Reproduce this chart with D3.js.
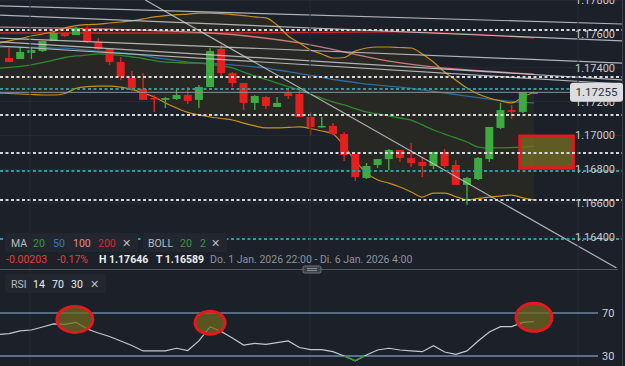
<!DOCTYPE html>
<html>
<head>
<meta charset="utf-8">
<script src="https://cdn.jsdelivr.net/npm/d3@7"></script>
<style>
    body { margin: 0; background: #1b2029; }
    #chart-area { width: 625px; height: 366px; }
    svg { display: block; font-family: Roboto, "Liberation Sans", Arial, sans-serif; }
</style>
</head>
<body>
<div id="chart-area"></div>
<script>
// EUR/USD candles, one per bar (bar 0 = first visible candle)
let opens  = [1.17458,1.17452,1.17488,1.17499,1.17559,1.17606,1.17594,1.17636,1.17553,1.17511,1.17434,1.17340,1.17275,1.17221,1.17210,1.17215,
              1.17239,1.17210,1.17286,1.17511,1.17369,1.17310,1.17192,1.17227,1.17168,1.17251,1.17245,1.17109,1.17050,1.17056,1.17008,1.16890,
              1.16748,1.16825,1.16860,1.16914,1.16866,1.16843,1.16819,1.16902,1.16825,1.16707,1.16742,1.16860,1.17044,1.17150,1.17139,1.17251];
let highs  = [1.17517,1.17523,1.17517,1.17559,1.17612,1.17612,1.17641,1.17646,1.17576,1.17517,1.17464,1.17381,1.17369,1.17239,1.17227,1.17269,
              1.17286,1.17298,1.17517,1.17535,1.17375,1.17310,1.17239,1.17233,1.17227,1.17269,1.17269,1.17138,1.17109,1.17073,1.17020,1.16890,
              1.16837,1.16860,1.16920,1.16914,1.16955,1.16872,1.16902,1.16920,1.16854,1.16754,1.16872,1.17050,1.17192,1.17180,1.17257,1.17257];
let lows   = [1.17434,1.17452,1.17452,1.17494,1.17559,1.17582,1.17594,1.17547,1.17505,1.17417,1.17328,1.17263,1.17210,1.17139,1.17162,1.17210,
              1.17186,1.17162,1.17286,1.17346,1.17286,1.17150,1.17150,1.17156,1.17168,1.17215,1.17109,1.17002,1.17044,1.17002,1.16849,1.16730,
              1.16742,1.16807,1.16795,1.16843,1.16813,1.16754,1.16801,1.16807,1.16707,1.16589,1.16736,1.16843,1.17038,1.17097,1.17133,1.17251];
let closes = [1.17434,1.17494,1.17505,1.17559,1.17606,1.17588,1.17636,1.17553,1.17511,1.17434,1.17346,1.17280,1.17210,1.17215,1.17221,1.17239,
              1.17204,1.17286,1.17499,1.17369,1.17310,1.17192,1.17233,1.17174,1.17192,1.17233,1.17109,1.17050,1.17056,1.17008,1.16884,1.16754,
              1.16819,1.16860,1.16914,1.16866,1.16837,1.16819,1.16902,1.16819,1.16707,1.16748,1.16866,1.17050,1.17150,1.17139,1.17257,1.17255];

// indicator lines, first value belongs to bar -1 (the half cut bar at the left edge)
let bollUpper  = [1.17544,1.17559,1.17573,1.17588,1.17600,1.17615,1.17636,1.17650,1.17656,1.17659,1.17665,1.17671,1.17677,1.17689,1.17701,1.17709,
                  1.17715,1.17718,1.17724,1.17724,1.17721,1.17715,1.17709,1.17701,1.17695,1.17653,1.17588,1.17547,1.17505,1.17482,1.17458,1.17461,
                  1.17499,1.17517,1.17523,1.17523,1.17520,1.17517,1.17482,1.17434,1.17375,1.17328,1.17280,1.17245,1.17221,1.17204,1.17192,1.17227,1.17257];
let bollMiddle = [1.17396,1.17402,1.17408,1.17417,1.17431,1.17446,1.17461,1.17470,1.17476,1.17482,1.17479,1.17473,1.17464,1.17455,1.17443,1.17434,
                  1.17431,1.17428,1.17428,1.17420,1.17411,1.17399,1.17375,1.17352,1.17331,1.17310,1.17289,1.17269,1.17242,1.17221,1.17198,1.17180,
                  1.17159,1.17139,1.17127,1.17115,1.17103,1.17091,1.17062,1.17032,1.17008,1.16985,1.16961,1.16931,1.16926,1.16926,1.16928,1.16931,1.16937];
let bollLower  = [1.17251,1.17248,1.17245,1.17242,1.17239,1.17239,1.17248,1.17278,1.17289,1.17292,1.17292,1.17286,1.17272,1.17251,1.17227,1.17192,
                  1.17162,1.17136,1.17121,1.17109,1.17100,1.17091,1.17073,1.17056,1.17044,1.17044,1.17047,1.17050,1.17041,1.17026,1.17008,1.16937,
                  1.16849,1.16778,1.16736,1.16718,1.16695,1.16665,1.16635,1.16659,1.16659,1.16638,1.16618,1.16627,1.16635,1.16641,1.16647,1.16630,1.16618];
let ma50       = [1.17523,1.17523,1.17523,1.17520,1.17520,1.17517,1.17517,1.17511,1.17505,1.17499,1.17494,1.17488,1.17482,1.17473,1.17461,1.17452,
                  1.17443,1.17434,1.17428,1.17426,1.17423,1.17417,1.17411,1.17405,1.17399,1.17387,1.17378,1.17366,1.17355,1.17343,1.17331,1.17322,
                  1.17313,1.17304,1.17298,1.17292,1.17286,1.17278,1.17269,1.17260,1.17251,1.17242,1.17233,1.17224,1.17215,1.17207,1.17201,1.17195,1.17192];
// MA 100 and MA 200 only read at a few bars: [bar, price]
let ma100 = [[-0.8, 1.17641], [18, 1.17606], [26, 1.17547], [34, 1.17440], [47, 1.17363]];
let ma200 = [[-0.8, 1.17606], [18, 1.17606], [35, 1.17612], [47, 1.17576]];

let rsi = [50.0,50.9,53.3,54.2,57.0,59.8,59.5,61.3,55.1,51.4,48.1,44.0,39.8,34.7,34.7,34.7,37.2,35.1,44.0,57.3,52.8,46.7,40.2,41.8,40.9,
           42.4,44.0,37.9,36.0,36.0,34.0,30.0,25.6,30.9,35.6,37.2,35.6,34.7,34.0,39.6,33.7,31.6,34.7,44.0,52.3,57.3,57.3,61.3,61.9];

// drawn levels and trend lines
let whiteLevels = [1.17624, 1.17346, 1.17121, 1.16896, 1.16618];
let tealLevels = [1.17275, 1.16789, 1.16387];
let trendLines = [
    [-0.8, 1.17766, 54.9, 1.17659],
    [-0.8, 1.17712, 54.9, 1.17559],
    [-0.8, 1.17576, 54.9, 1.17428],
    [-0.8, 1.17553, 54.9, 1.17328],
    [-0.8, 1.17529, 54.9, 1.17304],
    [12.2, 1.17801, 54.4, 1.16215]
];
let targetBox = [45.75, 1.16995, 50.5, 1.16807];     // bar1, price1, bar2, price2
let rsiCircles = [[5.9, 64, 18, 13], [18, 61, 15, 11.5], [47, 66, 18, 14]];  // bar, rsi, rx, ry

let priceTicks = [1.178, 1.176, 1.174, 1.172, 1.170, 1.168, 1.166, 1.164];
let rsiTicks = [70, 30];
let lastPrice = 1.17255;


class candleVis {
    constructor(parentElement){
        this.parentElement = parentElement;
        this.initVis();
    }

    initVis(){
        let vis = this;
        vis.width = 625;
        vis.height = 366;
        vis.plotRight = 622;
        vis.plotBottom = 268;

        vis.svg = d3.select("#" + vis.parentElement).append("svg")
            .attr("width", vis.width)
            .attr("height", vis.height);

        vis.svg.append("rect").attr("width", vis.width).attr("height", vis.height).attr("fill", "#1b2029");

        // scales
        vis.x = d3.scaleLinear().domain([0, 47]).range([9, 534]);
        vis.y = d3.scaleLinear().domain([1.164, 1.178]).range([236.8, 0.2]);
        vis.yRsi = d3.scaleLinear().domain([30, 70]).range([356, 313]);

        vis.svg.append("clipPath").attr("id", "plot-clip")
            .append("rect").attr("width", vis.plotRight).attr("height", vis.plotBottom);

        vis.plot = vis.svg.append("g").attr("clip-path", "url(#plot-clip)");

        // grid
        vis.plot.selectAll(".hgrid").data(priceTicks).enter().append("line")
            .attr("x1", 0).attr("x2", vis.plotRight)
            .attr("y1", d => vis.y(d)).attr("y2", d => vis.y(d))
            .attr("stroke", "#262c36").attr("stroke-width", 1);
        [30, 310, 578].forEach(gx => {
            vis.svg.append("line").attr("x1", gx).attr("x2", gx).attr("y1", 0).attr("y2", vis.height)
                .attr("stroke", "#262c36").attr("stroke-width", 1);
        });
        vis.svg.append("line").attr("x1", vis.plotRight + 0.5).attr("x2", vis.plotRight + 0.5)
            .attr("y1", 0).attr("y2", vis.height).attr("stroke", "#3a414c");

        vis.drawIndicators();
        vis.drawCandles();
        vis.drawLevels();
        vis.drawRsi();
        vis.drawLabels();
    }

    drawIndicators(){
        let vis = this;
        let xb = (d, i) => vis.x(i - 1);

        // bollinger fill
        let area = d3.area().x(xb).y0((d, i) => vis.y(bollLower[i])).y1(d => vis.y(d)).curve(d3.curveMonotoneX);
        vis.plot.append("path").datum(bollUpper).attr("d", area).attr("fill", "#272824");

        let line = d3.line().x(xb).y(d => vis.y(d)).curve(d3.curveMonotoneX);
        let knotLine = d3.line().x(d => vis.x(d[0])).y(d => vis.y(d[1])).curve(d3.curveMonotoneX);

        vis.plot.append("path").datum(ma200).attr("d", knotLine).attr("fill", "none").attr("stroke", "#c8262a").attr("stroke-width", 1.3);
        vis.plot.append("path").datum(ma100).attr("d", knotLine).attr("fill", "none").attr("stroke", "#c97a7e").attr("stroke-width", 1.3);
        vis.plot.append("path").datum(ma50).attr("d", line).attr("fill", "none").attr("stroke", "#2f6a9c").attr("stroke-width", 1.3);
        vis.plot.append("path").datum(bollMiddle).attr("d", line).attr("fill", "none").attr("stroke", "#2f8a2f").attr("stroke-width", 1.3);
        vis.plot.append("path").datum(bollUpper).attr("d", line).attr("fill", "none").attr("stroke", "#c8901c").attr("stroke-width", 1.2);
        vis.plot.append("path").datum(bollLower).attr("d", line).attr("fill", "none").attr("stroke", "#c8901c").attr("stroke-width", 1.2);
    }

    drawCandles(){
        let vis = this;
        let bars = opens.map((o, i) => ({i: i, o: o, h: highs[i], l: lows[i], c: closes[i]}));
        let col = d => d.c >= d.o ? "#3dab3f" : "#e4201f";

        let g = vis.plot.selectAll(".candle").data(bars).enter().append("g").attr("class", "candle");
        g.append("line")
            .attr("x1", d => vis.x(d.i)).attr("x2", d => vis.x(d.i))
            .attr("y1", d => vis.y(d.h)).attr("y2", d => vis.y(d.l))
            .attr("stroke", col).attr("stroke-width", 1.4);
        g.append("rect")
            .attr("x", d => vis.x(d.i) - 4)
            .attr("width", 8)
            .attr("y", d => vis.y(Math.max(d.o, d.c)))
            .attr("height", d => Math.max(1.5, Math.abs(vis.y(d.o) - vis.y(d.c))))
            .attr("fill", col);
    }

    drawLevels(){
        let vis = this;
        // last price line
        vis.plot.append("line").attr("x1", 0).attr("x2", vis.plotRight)
            .attr("y1", vis.y(lastPrice)).attr("y2", vis.y(lastPrice))
            .attr("stroke", "#8d939c").attr("stroke-width", 1);

        vis.plot.selectAll(".tline").data(trendLines).enter().append("line")
            .attr("x1", d => vis.x(d[0])).attr("y1", d => vis.y(d[1]))
            .attr("x2", d => vis.x(d[2])).attr("y2", d => vis.y(d[3]))
            .attr("stroke", "#c9ccd0").attr("stroke-width", 1.2).attr("opacity", 0.85);

        // target box
        vis.plot.append("rect")
            .attr("x", vis.x(targetBox[0])).attr("y", vis.y(targetBox[1]))
            .attr("width", vis.x(targetBox[2]) - vis.x(targetBox[0]))
            .attr("height", vis.y(targetBox[3]) - vis.y(targetBox[1]))
            .attr("fill", "rgba(118,112,34,0.75)").attr("stroke", "#e3191e").attr("stroke-width", 3.5);

        vis.plot.selectAll(".wlevel").data(whiteLevels).enter().append("line")
            .attr("x1", 0).attr("x2", vis.plotRight)
            .attr("y1", d => vis.y(d)).attr("y2", d => vis.y(d))
            .attr("stroke", "#d6d8db").attr("stroke-width", 2).attr("stroke-dasharray", "3,2.5");
        vis.plot.selectAll(".tlevel").data(tealLevels).enter().append("line")
            .attr("x1", 0).attr("x2", vis.plotRight)
            .attr("y1", d => vis.y(d)).attr("y2", d => vis.y(d))
            .attr("stroke", "#2b9ea3").attr("stroke-width", 2).attr("stroke-dasharray", "3,2.5");
    }

    drawRsi(){
        let vis = this;
        rsiTicks.forEach((t, k) => {
            vis.svg.append("line").attr("x1", 0).attr("x2", 598)
                .attr("y1", vis.yRsi(t)).attr("y2", vis.yRsi(t))
                .attr("stroke", k == 0 ? "#8db7dc" : "#6f8aae").attr("stroke-width", k == 0 ? 1.2 : 1.6);
        });

        let line = d3.line().x((d, i) => vis.x(i - 1)).y(d => vis.yRsi(d));
        vis.svg.append("path").datum(rsi).attr("d", line).attr("fill", "none")
            .attr("stroke", "#c4c7cc").attr("stroke-width", 1.2);

        // oversold part in green
        vis.svg.append("clipPath").attr("id", "rsi-low")
            .append("rect").attr("x", 0).attr("y", vis.yRsi(30)).attr("width", vis.plotRight).attr("height", 20);
        vis.svg.append("path").datum(rsi).attr("d", line).attr("fill", "none")
            .attr("clip-path", "url(#rsi-low)")
            .attr("stroke", "#2f9a36").attr("stroke-width", 1.4);

        vis.svg.selectAll(".rsi-circle").data(rsiCircles).enter().append("ellipse")
            .attr("cx", d => vis.x(d[0])).attr("cy", d => vis.yRsi(d[1]))
            .attr("rx", d => d[2]).attr("ry", d => d[3])
            .attr("fill", "rgba(112,106,30,0.72)").attr("stroke", "#e3191e").attr("stroke-width", 3);
    }

    drawLabels(){
        let vis = this;

        vis.svg.selectAll(".ptick").data(priceTicks).enter().append("text")
            .attr("x", 575).attr("y", d => vis.y(d)).attr("dy", "0.36em")
            .attr("font-size", 11).attr("fill", "#c9ccd1")
            .text(d => d.toFixed(5));

        // last price tag
        let ly = vis.y(lastPrice);
        vis.svg.append("rect").attr("x", 570).attr("y", ly - 9.5).attr("width", 53).attr("height", 19).attr("rx", 3)
            .attr("fill", "#dcdde0");
        vis.svg.append("text").attr("x", 596.5).attr("y", ly).attr("dy", "0.36em").attr("text-anchor", "middle")
            .attr("font-size", 11.5).attr("fill", "#2a2e35").text(lastPrice.toFixed(5));

        vis.svg.selectAll(".rtick").data(rsiTicks).enter().append("text")
            .attr("x", 602).attr("y", d => vis.yRsi(d)).attr("dy", "0.36em")
            .attr("font-size", 11).attr("fill", "#d0d3d8").text(d => d);

        // separator between panels
        vis.svg.append("line").attr("x1", 0).attr("x2", 618).attr("y1", 269.5).attr("y2", 269.5)
            .attr("stroke", "#50565f").attr("stroke-width", 1);
        vis.svg.append("rect").attr("x", 303).attr("y", 266).attr("width", 18).attr("height", 7).attr("rx", 1.5)
            .attr("fill", "#3b4049").attr("stroke", "#6c727c");
        [268.5, 270.5].forEach(hy => vis.svg.append("line").attr("x1", 307).attr("x2", 317).attr("y1", hy).attr("y2", hy)
            .attr("stroke", "#9aa0a8").attr("stroke-width", 0.8));

        // legend boxes
        let box = (bx, by, bw, parts) => {
            vis.svg.append("rect").attr("x", bx).attr("y", by).attr("width", bw).attr("height", 19).attr("rx", 2)
                .attr("fill", "#22272f");
            parts.forEach(p => {
                vis.svg.append("text").attr("x", p[0]).attr("y", by + 14).attr("font-size", 10.5)
                    .attr("fill", p[2]).text(p[1]);
            });
        };
        box(5, 233, 133, [[11, "MA", "#b9bcc2"], [33, "20", "#3a9a3c"], [53, "50", "#3d78ad"], [73, "100", "#e58a8e"], [98, "200", "#d8282c"], [122, "\u2715", "#b9bcc2"]]);
        box(143, 233, 84, [[148, "BOLL", "#b9bcc2"], [180, "20", "#3a9a3c"], [200, "2", "#3a9a3c"], [211, "\u2715", "#b9bcc2"]]);
        box(5, 274, 101, [[11, "RSI", "#b9bcc2"], [33, "14", "#eceef0"], [52, "70", "#eceef0"], [71, "30", "#eceef0"], [90, "\u2715", "#b9bcc2"]]);

        // info row
        let info = [[6, "-0.00203", "#e0403c", 400], [57, "-0.17%", "#e0403c", 400], [99, "H 1.17646", "#eceef0", 700],
                    [156, "T 1.16589", "#eceef0", 700], [210, "Do. 1 Jan. 2026 22:00 - Di. 6 Jan. 2026 4:00", "#8e939b", 400]];
        vis.svg.selectAll(".info").data(info).enter().append("text")
            .attr("x", d => d[0]).attr("y", 263).attr("font-size", 10.5)
            .attr("font-weight", d => d[3]).attr("fill", d => d[2]).text(d => d[1]);
    }
}

new candleVis("chart-area");
</script>
</body>
</html>
